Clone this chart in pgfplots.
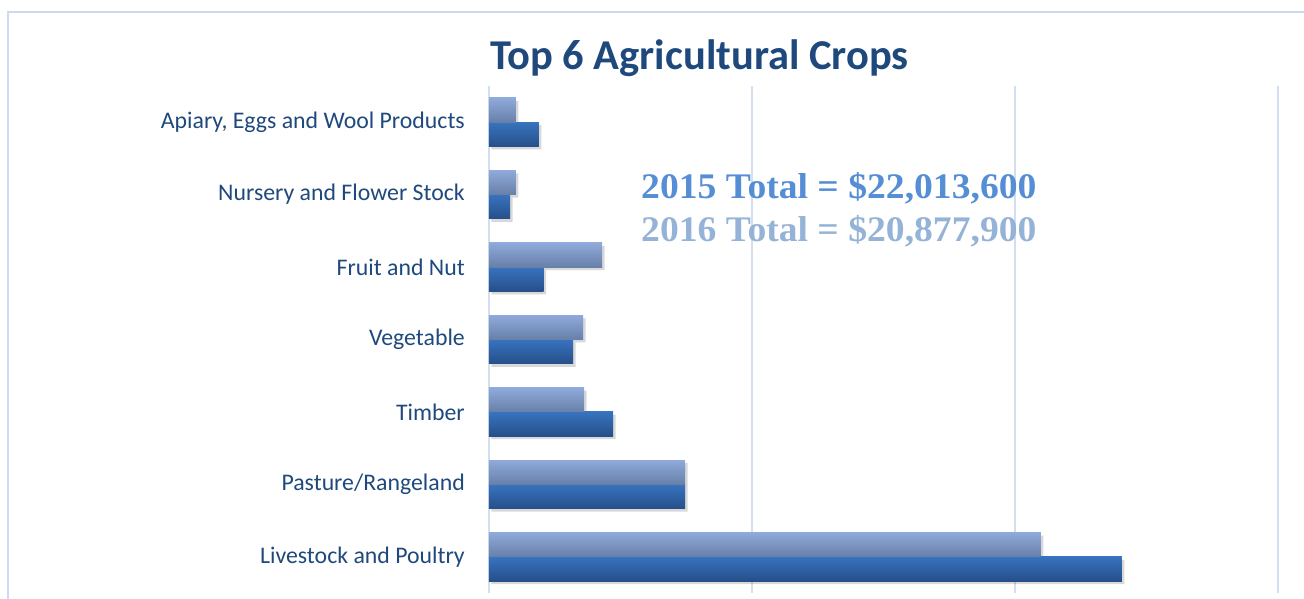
\documentclass[border=0pt]{standalone}
\usepackage{pgfplots}
\pgfplotsset{compat=1.18}
\usepackage{fontspec}
\setmainfont{Carlito}
\newfontfamily\totalfont[FakeStretch=1.045]{Liberation Serif}
\definecolor{labelblue}{HTML}{1F497D}
\definecolor{gridblue}{HTML}{D3DFF0}
\definecolor{framecol}{HTML}{CCDBEF}
\definecolor{lighttop}{HTML}{8FAADB}
\definecolor{lightbot}{HTML}{6880A8}
\definecolor{darktop}{HTML}{3873BE}
\definecolor{darkbot}{HTML}{264F8A}
\definecolor{tot15}{HTML}{558ED5}
\definecolor{tot16}{HTML}{95B3D7}
\pgfplotsset{
  b15/.style={xbar, bar shift=-0.1675, draw=none, top color=darktop, bottom color=darkbot},
  b16/.style={xbar, bar shift=0.1675, draw=none, top color=lighttop, bottom color=lightbot},
  shadowbar/.style={xbar, draw=none, fill=black!70, opacity=0.22, xshift=2.5pt, yshift=-3pt},
}
\begin{document}
\begin{tikzpicture}[x=1pt,y=1pt]
\useasboundingbox (-489,-6) rectangle (815,593);
\draw[framecol, line width=2pt] (-481,-20) -- (-481,581) -- (830,581);
\begin{axis}[
  at={(0,0)}, anchor=south west,
  scale only axis, width=789pt, height=507pt,
  xmin=0, xmax=15, ymin=-0.5, ymax=6.5,
  xtick={0,5,10,15}, xticklabels={},
  xmajorgrids, grid style={gridblue, line width=1.6pt},
  ytick={0,...,6},
  yticklabels={Livestock and Poultry, Pasture/Rangeland, Timber, Vegetable, Fruit and Nut~, Nursery and Flower Stock, {Apiary, Eggs and Wool Products}},
  yticklabel style={font=\fontsize{23.8}{28}\selectfont, text=labelblue, inner sep=0pt, xshift=-24pt},
  axis line style={draw=none},
  major tick length=0pt,
  bar width=0.335,
  clip=false,
]
% shadows (same values as the bars below)
\addplot[shadowbar, bar shift=-0.1675] coordinates {(12.03,0) (3.73,1) (2.36,2) (1.60,3) (1.04,4) (0.40,5) (0.95,6)};
\addplot[shadowbar, bar shift=0.1675] coordinates {(10.49,0) (3.73,1) (1.81,2) (1.79,3) (2.15,4) (0.51,5) (0.51,6)};
% 2015, millions of dollars (one plot per bar so each bar gets its own gradient)
\addplot[b15] coordinates {(12.03,0)};
\addplot[b15] coordinates {(3.73,1)};
\addplot[b15] coordinates {(2.36,2)};
\addplot[b15] coordinates {(1.60,3)};
\addplot[b15] coordinates {(1.04,4)};
\addplot[b15] coordinates {(0.40,5)};
\addplot[b15] coordinates {(0.95,6)};
% 2016
\addplot[b16] coordinates {(10.49,0)};
\addplot[b16] coordinates {(3.73,1)};
\addplot[b16] coordinates {(1.81,2)};
\addplot[b16] coordinates {(1.79,3)};
\addplot[b16] coordinates {(2.15,4)};
\addplot[b16] coordinates {(0.51,5)};
\addplot[b16] coordinates {(0.51,6)};
\end{axis}
\node[anchor=base west, inner sep=0pt, text=labelblue, font=\bfseries\fontsize{42.5}{50}\selectfont] at (1,523) {Top 6 Agricultural Crops};
\node[anchor=base west, inner sep=0pt, text=tot15, font=\totalfont\bfseries\fontsize{36}{42}\selectfont] at (152,394) {2015 Total = \$22,013,600};
\node[anchor=base west, inner sep=0pt, text=tot16, font=\totalfont\bfseries\fontsize{36}{42}\selectfont] at (152,351) {2016 Total = \$20,877,900};
\end{tikzpicture}
\end{document}
